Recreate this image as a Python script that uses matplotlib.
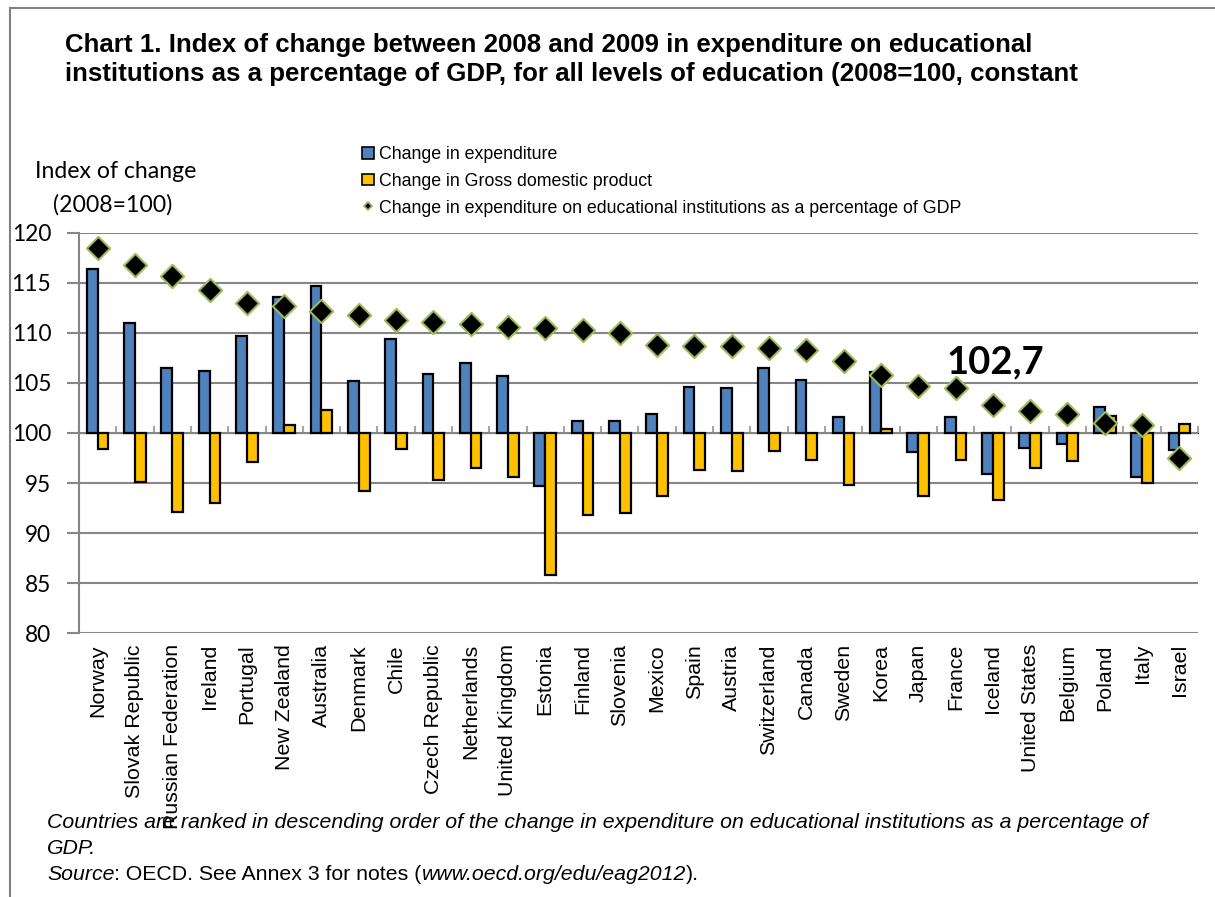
import matplotlib
matplotlib.use("Agg")
import matplotlib.pyplot as plt
import numpy as np
from matplotlib.patches import Patch
from matplotlib.lines import Line2D

countries = ["Norway", "Slovak Republic", "Russian Federation", "Ireland", "Portugal",
             "New Zealand", "Australia", "Denmark", "Chile", "Czech Republic",
             "Netherlands", "United Kingdom", "Estonia", "Finland", "Slovenia",
             "Mexico", "Spain", "Austria", "Switzerland", "Canada", "Sweden",
             "Korea", "Japan", "France", "Iceland", "United States", "Belgium",
             "Poland", "Italy", "Israel"]
expenditure = [116.4, 111.0, 106.5, 106.2, 109.7, 113.6, 114.7, 105.2, 109.4, 105.9,
               107.0, 105.7, 94.7, 101.2, 101.2, 101.9, 104.6, 104.5, 106.5, 105.3,
               101.6, 106.1, 98.1, 101.6, 95.9, 98.5, 98.9, 102.6, 95.6, 98.3]
gdp = [98.4, 95.1, 92.1, 93.0, 97.1, 100.8, 102.3, 94.2, 98.4, 95.3,
       96.5, 95.6, 85.8, 91.8, 92.0, 93.7, 96.3, 96.2, 98.2, 97.3,
       94.8, 100.4, 93.7, 97.3, 93.3, 96.5, 97.2, 101.7, 95.0, 100.9]
pct_gdp = [118.5, 116.8, 115.7, 114.3, 113.0, 112.7, 112.2, 111.8, 111.3, 111.1,
           110.9, 110.6, 110.5, 110.3, 110.0, 108.8, 108.7, 108.7, 108.5, 108.3,
           107.2, 105.8, 104.7, 104.5, 102.8, 102.2, 101.9, 101.0, 100.8, 97.5]
yticks = [80, 85, 90, 95, 100, 105, 110, 115, 120]
annotation = "102,7"

W, H = 1215, 897
fig = plt.figure(figsize=(W / 100, H / 100), dpi=100)

ARIAL = "Liberation Sans"
CALIBRI = "Lato"
GRID = "#868686"
BLUE = "#4F81BD"
ORANGE = "#FFC000"
GREEN = "#9BBB59"

def fx(px):
    return px / W

def fy(py):
    return 1 - py / H

ax = fig.add_axes([fx(79), fy(633), fx(1198) - fx(79), fy(233) - fy(633)])
x = np.arange(len(countries))
bw = 0.29
base = 100
ax.bar(x - 0.145, np.array(expenditure) - base, bw, bottom=base, color=BLUE,
       edgecolor="black", linewidth=1.6, zorder=3, label="Change in expenditure")
ax.bar(x + 0.145, np.array(gdp) - base, bw, bottom=base, color=ORANGE,
       edgecolor="black", linewidth=1.6, zorder=3, label="Change in Gross domestic product")
ax.scatter(x, pct_gdp, marker="D", s=140, color="black", edgecolor=GREEN,
           linewidth=1.5, zorder=4,
           label="Change in expenditure on educational institutions as a percentage of GDP")

ax.set_xlim(-0.5, len(countries) - 0.5)
ax.set_ylim(80, 120)
ax.set_yticks(yticks)
ax.set_yticklabels([str(v) for v in yticks], fontfamily=CALIBRI, fontsize=16.3)
ax.yaxis.grid(True, color=GRID, linewidth=1.5, zorder=0)
ax.set_axisbelow(True)
ax.tick_params(axis="y", length=9, width=1.5, color=GRID, pad=11)
for s in ["top", "right"]:
    ax.spines[s].set_visible(False)
ax.spines["bottom"].set_visible(False)
ax.spines["left"].set_color(GRID)
ax.spines["left"].set_linewidth(1.5)

ax.set_xticks(x)
ax.set_xticklabels(countries, rotation=90, fontfamily=ARIAL, fontsize=15.4)
ax.tick_params(axis="x", length=0, pad=8)

# category axis crossing at 100
sec = ax.secondary_xaxis(0.5)
sec.set_xticks(np.arange(-0.5, len(countries) + 0.5, 1))
sec.set_xticklabels([])
sec.tick_params(axis="x", length=5, width=1.5, color="#A6A6A6", direction="out")
sec.spines["bottom"].set_color(GRID)
sec.spines["bottom"].set_linewidth(1.5)

# title
fig.text(fx(65), fy(45), "Chart 1. Index of change between 2008 and 2009 in expenditure on educational",
         fontfamily=ARIAL, fontweight="bold", fontsize=18.6, va="center", ha="left")
fig.text(fx(65), fy(74), "institutions as a percentage of GDP, for all levels of education (2008=100, constant",
         fontfamily=ARIAL, fontweight="bold", fontsize=18.6, va="center", ha="left")

# y label
fig.text(fx(116), fy(172), "Index of change", fontfamily=CALIBRI, fontsize=16.6, ha="center", va="center")
fig.text(fx(113), fy(205), "(2008=100)", fontfamily=CALIBRI, fontsize=16.6, ha="center", va="center")

# legend
handles = [Patch(facecolor=BLUE, edgecolor="black", linewidth=1.2),
           Patch(facecolor=ORANGE, edgecolor="black", linewidth=1.2),
           Line2D([], [], marker="D", color="none", markerfacecolor="black",
                  markeredgecolor=GREEN, markersize=4.5, markeredgewidth=1.2)]
labels = ["Change in expenditure", "Change in Gross domestic product",
          "Change in expenditure on educational institutions as a percentage of GDP"]
fig.legend(handles, labels, loc="upper left", bbox_to_anchor=(fx(362), fy(146)),
           frameon=False, prop={"family": ARIAL, "size": 12.8},
           handlelength=0.65, handleheight=0.65, handletextpad=0.3,
           labelspacing=0.55, borderaxespad=0, borderpad=0)

# annotation
fig.text(fx(946), fy(373), annotation, fontfamily=CALIBRI, fontweight="bold",
         fontsize=27.5, ha="left", va="baseline")

# footnotes
FN = 15.3
fig.text(fx(47), fy(822), "Countries are ranked in descending order of the change in expenditure on educational institutions as a percentage of",
         fontfamily=ARIAL, fontstyle="italic", fontsize=FN, va="center")
fig.text(fx(47), fy(848), "GDP.", fontfamily=ARIAL, fontstyle="italic", fontsize=FN, va="center")

fig.canvas.draw()
renderer = fig.canvas.get_renderer()
parts = [("Source", "italic"), (": OECD. See Annex 3 for notes (", "normal"),
         ("www.oecd.org/edu/eag2012", "italic"), (").", "normal")]
xpos = fx(47)
for txt, style in parts:
    t = fig.text(xpos, fy(874), txt, fontfamily=ARIAL, fontstyle=style, fontsize=FN, va="center")
    bb = t.get_window_extent(renderer)
    xpos = bb.x1 / W

# border lines
fig.add_artist(Line2D([fx(10), fx(10)], [fy(8), 0], color="#808080", linewidth=1.5))
fig.add_artist(Line2D([fx(10), 1], [fy(8), fy(8)], color="#808080", linewidth=1.5))

fig.savefig("out.png", dpi=100)
